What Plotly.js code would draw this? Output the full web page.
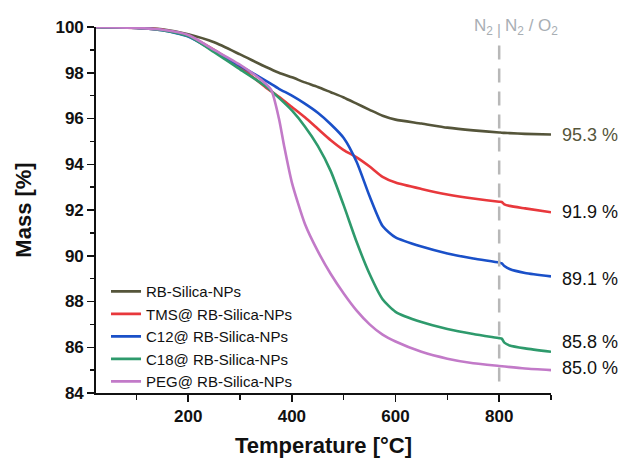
<!DOCTYPE html>
<html>
<head>
<meta charset="utf-8">
<script src="https://cdn.plot.ly/plotly-3.0.1.min.js"></script>
<style>html,body{margin:0;padding:0;background:#fff;}#chart{width:622px;height:461px;}</style>
</head>
<body>
<div id="chart"></div>
<script>
// Temperature grid (°C) shared by four series
const tempGrid = [22, 100, 150, 200, 250, 300, 350, 375, 400, 425, 450, 475, 500, 525, 550, 575, 600, 650, 700, 750, 800, 805, 810, 820, 850, 900];
const rbSilica = [100.0, 99.97, 99.9, 99.68, 99.33, 98.8, 98.25, 98.0, 97.8, 97.58, 97.38, 97.15, 96.92, 96.65, 96.38, 96.12, 95.95, 95.78, 95.6, 95.48, 95.39, 95.38, 95.37, 95.36, 95.33, 95.3];
const tms      = [100.0, 99.96, 99.88, 99.62, 99.0, 98.25, 97.35, 96.95, 96.5, 96.05, 95.55, 95.05, 94.62, 94.3, 93.9, 93.45, 93.2, 92.92, 92.68, 92.5, 92.36, 92.35, 92.25, 92.18, 92.07, 91.9];
const c12      = [100.0, 99.96, 99.86, 99.58, 98.95, 98.3, 97.65, 97.3, 97.0, 96.65, 96.25, 95.75, 95.15, 94.1, 92.6, 91.3, 90.8, 90.4, 90.1, 89.88, 89.7, 89.67, 89.55, 89.42, 89.25, 89.1];
const c18      = [100.0, 99.96, 99.86, 99.6, 98.9, 98.15, 97.4, 96.9, 96.35, 95.65, 94.8, 93.7, 92.2, 90.6, 89.2, 88.1, 87.55, 87.1, 86.8, 86.58, 86.4, 86.38, 86.2, 86.08, 85.95, 85.8];
// PEG series has its own temperature points
const pegTemp  = [22, 100, 150, 200, 250, 300, 340, 360, 375, 385, 400, 425, 450, 475, 500, 525, 550, 575, 600, 650, 700, 750, 800, 850, 900];
const peg      = [100.0, 99.96, 99.88, 99.65, 99.0, 98.35, 97.7, 97.25, 96.0, 94.8, 93.2, 91.4, 90.2, 89.2, 88.35, 87.6, 87.0, 86.55, 86.25, 85.8, 85.5, 85.3, 85.18, 85.07, 85.0];

const seriesNames = ["RB-Silica-NPs", "TMS@ RB-Silica-NPs", "C12@ RB-Silica-NPs", "C18@ RB-Silica-NPs", "PEG@ RB-Silica-NPs"];
const finalLabels = ["95.3 %", "91.9 %", "89.1 %", "85.8 %", "85.0 %"];
const finalValues = [95.3, 91.9, 89.1, 85.8, 85.0];
const gasLabels = ["N<sub>2</sub>", "|", "N<sub>2</sub> / O<sub>2</sub>"];
const switchTemp = 800;

const colors = ["#55553a", "#e8383c", "#1a50c8", "#2e9a6c", "#c27ac8"];
const xs = [tempGrid, tempGrid, tempGrid, tempGrid, pegTemp];
const ys = [rbSilica, tms, c12, c18, peg];

const traces = ys.map((y, i) => ({
  x: xs[i], y: y, name: seriesNames[i], type: 'scatter', mode: 'lines',
  line: {color: colors[i], width: 2.6, shape: 'spline', smoothing: 0.6}
}));

const labelShift = [0, 0, -3, 10, 2];
const annotations = finalLabels.map((t, i) => ({
  x: 900, y: finalValues[i], xref: 'x', yref: 'y', text: t, showarrow: false,
  xanchor: 'left', xshift: 9, yshift: labelShift[i],
  font: {family: 'Liberation Sans, Arial, sans-serif', size: 18, color: i === 0 ? '#55553a' : '#111'}
}));
const gasFont = {family: 'Liberation Sans, Arial, sans-serif', size: 17, color: '#a8aeb4'};
annotations.push(
  {x: switchTemp, y: 1, xref: 'x', yref: 'paper', text: gasLabels[0], showarrow: false, xanchor: 'right', yanchor: 'bottom', xshift: -4, yshift: -13, font: gasFont},
  {x: switchTemp, y: 1, xref: 'x', yref: 'paper', text: gasLabels[1], showarrow: false, xanchor: 'center', yanchor: 'bottom', yshift: -13, font: {family: gasFont.family, size: 15, color: gasFont.color}},
  {x: switchTemp, y: 1, xref: 'x', yref: 'paper', text: gasLabels[2], showarrow: false, xanchor: 'left', yanchor: 'bottom', xshift: 4, yshift: -13, font: gasFont}
);

const tickFont = {family: 'Liberation Sans, Arial, sans-serif', size: 17, color: '#111', weight: 'bold'};
const titleFont = {family: 'Liberation Sans, Arial, sans-serif', size: 22, color: '#111', weight: 'bold'};

const layout = {
  width: 622, height: 461,
  margin: {l: 96, r: 71, t: 27, b: 68},
  paper_bgcolor: '#fff', plot_bgcolor: '#fff',
  showlegend: true,
  legend: {x: 0.022, y: 0.322, xanchor: 'left', yanchor: 'top', bgcolor: 'rgba(0,0,0,0)',
           font: {family: 'Liberation Sans, Arial, sans-serif', size: 15, color: '#111'}, tracegroupgap: 0},
  xaxis: {
    range: [22, 900], showgrid: false, zeroline: false,
    showline: true, linecolor: '#111', linewidth: 1.8,
    ticks: 'outside', ticklen: 7, tickwidth: 1.5, tickcolor: '#111',
    tickmode: 'array', tickvals: [200, 400, 600, 800], ticktext: ['200', '400', '600', '800'],
    minor: {tickvals: [100, 300, 500, 700, 900], ticks: 'outside', ticklen: 5, tickwidth: 1.5, tickcolor: '#111', showgrid: false},
    tickfont: tickFont,
    title: {text: 'Temperature [°C]', font: titleFont, standoff: 12}
  },
  yaxis: {
    range: [84, 100], showgrid: false, zeroline: false,
    showline: true, linecolor: '#111', linewidth: 1.8,
    ticks: 'outside', ticklen: 7, tickwidth: 1.5, tickcolor: '#111',
    tickmode: 'linear', tick0: 84, dtick: 2,
    minor: {dtick: 1, ticks: 'outside', ticklen: 4, tickwidth: 1.5, tickcolor: '#111', showgrid: false},
    tickfont: tickFont,
    title: {text: 'Mass [%]', font: titleFont, standoff: 18}
  },
  shapes: [{type: 'line', xref: 'x', yref: 'y', x0: switchTemp, x1: switchTemp, y0: 84.5, y1: 99.3,
            line: {color: '#b8b8b8', width: 2.5, dash: '14px,9px'}}],
  annotations: annotations
};

Plotly.newPlot('chart', traces, layout, {displayModeBar: false, staticPlot: true});
</script>
</body>
</html>
